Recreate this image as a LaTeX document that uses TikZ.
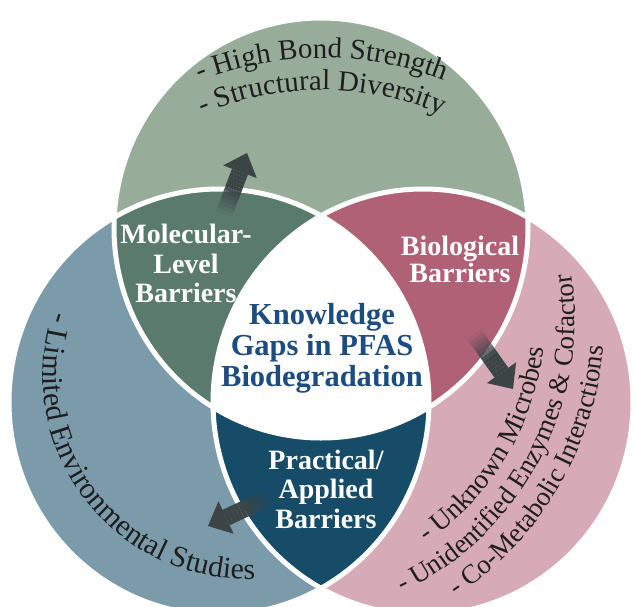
\documentclass[tikz,border=0pt]{standalone}
\usepackage{fontspec}
\setmainfont{Liberation Serif}
\usetikzlibrary{calc,decorations.text}
\definecolor{topg}{HTML}{97AD9A}
\definecolor{leftb}{HTML}{7B9BAB}
\definecolor{rightp}{HTML}{D6AAB6}
\definecolor{molg}{HTML}{5A7A6E}
\definecolor{biop}{HTML}{B06176}
\definecolor{pracb}{HTML}{164C68}
\definecolor{ctext}{HTML}{1C4C80}
\definecolor{arrowc}{HTML}{3C4545}
\definecolor{curvet}{HTML}{1E1E1E}
\newcommand\curvefont[1]{\fontsize{#1}{#1}\selectfont\color{curvet}}
\newcommand\topE{(321,228) ellipse [x radius=207, y radius=210]}
\newcommand\leftE{(219,402) ellipse [x radius=210, y radius=213]}
\newcommand\rightE{(423,402) ellipse [x radius=210, y radius=213]}
\newcommand\blockarrow[2]{%
  \coordinate (ab) at ($(#2)!20pt!(#1)$);
  \fill[arrowc] ($(ab)!8.5pt!90:(#2)$) -- ($(ab)!18pt!90:(#2)$) -- (#2) -- ($(ab)!18pt!-90:(#2)$) -- ($(ab)!8.5pt!-90:(#2)$) -- cycle;
  \foreach \ii in {0,...,11}{%
    \pgfmathsetmacro\fa{\ii/12}%
    \pgfmathsetmacro\fb{(\ii+1)/12}%
    \pgfmathsetmacro\op{min(1,(\ii+0.5)/7)}%
    \coordinate (pa) at ($(#1)!\fa!(ab)$);
    \coordinate (pb) at ($(#1)!\fb!(ab)$);
    \fill[arrowc, fill opacity=\op] ($(pa)!8.5pt!90:(#2)$) -- ($(pb)!8.5pt!90:(#2)$) -- ($(pb)!8.5pt!-90:(#2)$) -- ($(pa)!8.5pt!-90:(#2)$) -- cycle;
  }%
}
\begin{document}
\begin{tikzpicture}[x=1pt, y=-1pt,
  lab/.style={font=\fontsize{28}{28}\selectfont\bfseries, text=white, anchor=base, inner sep=0pt},
  ctr/.style={font=\fontsize{30.5}{30.5}\selectfont\bfseries, text=ctext, anchor=base, inner sep=0pt},
  sep/.style={draw=white, line width=5pt}]
\useasboundingbox (0,0) rectangle (635,606);
\fill[white] (0,0) rectangle (635,606);
% outer circles
\fill[topg] \topE;
\fill[leftb] \leftE;
\fill[rightp] \rightE;
% pairwise overlaps
\begin{scope}
  \clip \leftE;
  \fill[pracb] \rightE;
\end{scope}
\begin{scope}
  \clip \topE;
  \fill[molg] \leftE;
  \fill[biop] \rightE;
  \clip \leftE;
  \fill[white] \rightE;
\end{scope}
% white separators
\path[sep] \topE;
\path[sep] \leftE;
\path[sep] \rightE;
% arrows
\coordinate (t1) at (224,214); \coordinate (h1) at (247,153);
\coordinate (t2) at (474,334); \coordinate (h2) at (513,389);
\coordinate (t3) at (270,497); \coordinate (h3) at (208,526);
\blockarrow{t1}{h1}
\blockarrow{t2}{h2}
\blockarrow{t3}{h3}
% labels
\node[lab] (m1) at (186,243) {Molecular-};
\node[lab] (m2) at (186,273) {Level};
\node[lab] (m3) at (186,302) {Barriers};
\node[lab] (b1) at (460,255) {Biological};
\node[lab] (b2) at (460,282) {Barriers};
\node[lab] (p1) at (326,469) {Practical/};
\node[lab] (p2) at (326,498) {Applied};
\node[lab] (p3) at (326,528) {Barriers};
\node[ctr] (k1) at (322,324) {Knowledge};
\node[ctr] (k2) at (322,355) {Gaps in PFAS};
\node[ctr] (k3) at (322,386) {Biodegradation};
% curved texts
\path[decorate, decoration={text along path, text align=center, text={|\curvefont{29}|- High Bond Strength}}]
  ($(322,395)+(-120:337)$) arc[start angle=-120, end angle=-60, radius=337];
\path[decorate, decoration={text along path, text align=center, text={|\curvefont{29}|- Structural Diversity}}]
  ($(322,395)+(-122:305)$) arc[start angle=-122, end angle=-58, radius=305];
\path[decorate, decoration={text along path, text align=center, text={|\curvefont{30}|- Limited Environmental Studies}}]
  ($(246,376)+(213:203)$) arc[start angle=213, end angle=73, radius=203];
\path[decorate, decoration={text along path, text align=center, text={|\curvefont{27.5}|- Unknown Microbes}}]
  ($(273,318)+(78:272)$) arc[start angle=78, end angle=-16, radius=272];
\path[decorate, decoration={text along path, text align=center, text={|\curvefont{27}|- Unidentified Enzymes {\&} Cofactor}}]
  ($(270,318)+(74:305)$) arc[start angle=74, end angle=-18, radius=305];
\path[decorate, decoration={text along path, text align=center, text={|\curvefont{27}|- Co-Metabolic Interactions}}]
  ($(270,318)+(76:335)$) arc[start angle=76, end angle=-15, radius=335];
\end{tikzpicture}
\end{document}
